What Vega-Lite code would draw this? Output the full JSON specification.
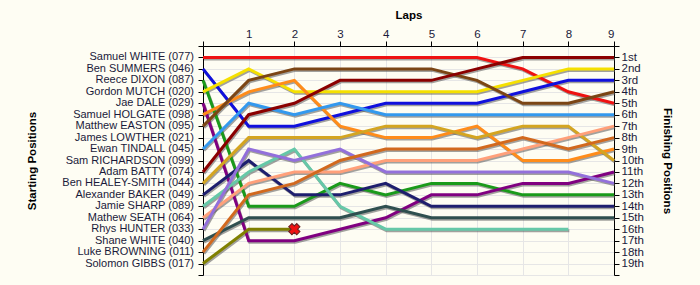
{
  "$schema": "https://vega.github.io/schema/vega-lite/v6.json",
  "autosize": "none",
  "width": 411,
  "height": 229,
  "padding": {"left": 203, "top": 46, "right": 86, "bottom": 10},
  "background": "#fefdf3",
  "config": {
    "view": {"stroke": null},
    "font": "Liberation Sans",
    "axis": {"labelFont": "Liberation Sans", "titleFont": "Liberation Sans", "labelColor": "#1a1a3a", "titleColor": "#000000", "domainColor": "#000000", "tickColor": "#000000", "gridColor": "#e6e6e6", "labelFontSize": 11, "titleFontSize": 11.5, "titleFontWeight": "bold", "labelOverlap": false}
  },
  "datasets": {
    "laps": [
      {"rider": "Samuel WHITE (077)", "lap": 0, "pos": 1}, {"rider": "Samuel WHITE (077)", "lap": 1, "pos": 1}, {"rider": "Samuel WHITE (077)", "lap": 2, "pos": 1}, {"rider": "Samuel WHITE (077)", "lap": 3, "pos": 1}, {"rider": "Samuel WHITE (077)", "lap": 4, "pos": 1}, {"rider": "Samuel WHITE (077)", "lap": 5, "pos": 1}, {"rider": "Samuel WHITE (077)", "lap": 6, "pos": 1}, {"rider": "Samuel WHITE (077)", "lap": 7, "pos": 2}, {"rider": "Samuel WHITE (077)", "lap": 8, "pos": 4}, {"rider": "Samuel WHITE (077)", "lap": 9, "pos": 5},
      {"rider": "Ben SUMMERS (046)", "lap": 0, "pos": 2}, {"rider": "Ben SUMMERS (046)", "lap": 1, "pos": 7}, {"rider": "Ben SUMMERS (046)", "lap": 2, "pos": 7}, {"rider": "Ben SUMMERS (046)", "lap": 3, "pos": 6}, {"rider": "Ben SUMMERS (046)", "lap": 4, "pos": 5}, {"rider": "Ben SUMMERS (046)", "lap": 5, "pos": 5}, {"rider": "Ben SUMMERS (046)", "lap": 6, "pos": 5}, {"rider": "Ben SUMMERS (046)", "lap": 7, "pos": 4}, {"rider": "Ben SUMMERS (046)", "lap": 8, "pos": 3}, {"rider": "Ben SUMMERS (046)", "lap": 9, "pos": 3},
      {"rider": "Reece DIXON (087)", "lap": 0, "pos": 3}, {"rider": "Reece DIXON (087)", "lap": 1, "pos": 14}, {"rider": "Reece DIXON (087)", "lap": 2, "pos": 14}, {"rider": "Reece DIXON (087)", "lap": 3, "pos": 12}, {"rider": "Reece DIXON (087)", "lap": 4, "pos": 13}, {"rider": "Reece DIXON (087)", "lap": 5, "pos": 12}, {"rider": "Reece DIXON (087)", "lap": 6, "pos": 12}, {"rider": "Reece DIXON (087)", "lap": 7, "pos": 13}, {"rider": "Reece DIXON (087)", "lap": 8, "pos": 13}, {"rider": "Reece DIXON (087)", "lap": 9, "pos": 13},
      {"rider": "Gordon MUTCH (020)", "lap": 0, "pos": 4}, {"rider": "Gordon MUTCH (020)", "lap": 1, "pos": 2}, {"rider": "Gordon MUTCH (020)", "lap": 2, "pos": 4}, {"rider": "Gordon MUTCH (020)", "lap": 3, "pos": 4}, {"rider": "Gordon MUTCH (020)", "lap": 4, "pos": 4}, {"rider": "Gordon MUTCH (020)", "lap": 5, "pos": 4}, {"rider": "Gordon MUTCH (020)", "lap": 6, "pos": 4}, {"rider": "Gordon MUTCH (020)", "lap": 7, "pos": 3}, {"rider": "Gordon MUTCH (020)", "lap": 8, "pos": 2}, {"rider": "Gordon MUTCH (020)", "lap": 9, "pos": 2},
      {"rider": "Jae DALE (029)", "lap": 0, "pos": 5}, {"rider": "Jae DALE (029)", "lap": 1, "pos": 17}, {"rider": "Jae DALE (029)", "lap": 2, "pos": 17}, {"rider": "Jae DALE (029)", "lap": 3, "pos": 16}, {"rider": "Jae DALE (029)", "lap": 4, "pos": 15}, {"rider": "Jae DALE (029)", "lap": 5, "pos": 13}, {"rider": "Jae DALE (029)", "lap": 6, "pos": 13}, {"rider": "Jae DALE (029)", "lap": 7, "pos": 12}, {"rider": "Jae DALE (029)", "lap": 8, "pos": 12}, {"rider": "Jae DALE (029)", "lap": 9, "pos": 11},
      {"rider": "Samuel HOLGATE (098)", "lap": 0, "pos": 6}, {"rider": "Samuel HOLGATE (098)", "lap": 1, "pos": 4}, {"rider": "Samuel HOLGATE (098)", "lap": 2, "pos": 3}, {"rider": "Samuel HOLGATE (098)", "lap": 3, "pos": 7}, {"rider": "Samuel HOLGATE (098)", "lap": 4, "pos": 8}, {"rider": "Samuel HOLGATE (098)", "lap": 5, "pos": 8}, {"rider": "Samuel HOLGATE (098)", "lap": 6, "pos": 7}, {"rider": "Samuel HOLGATE (098)", "lap": 7, "pos": 10}, {"rider": "Samuel HOLGATE (098)", "lap": 8, "pos": 10}, {"rider": "Samuel HOLGATE (098)", "lap": 9, "pos": 9},
      {"rider": "Matthew EASTON (095)", "lap": 0, "pos": 7}, {"rider": "Matthew EASTON (095)", "lap": 1, "pos": 3}, {"rider": "Matthew EASTON (095)", "lap": 2, "pos": 2}, {"rider": "Matthew EASTON (095)", "lap": 3, "pos": 2}, {"rider": "Matthew EASTON (095)", "lap": 4, "pos": 2}, {"rider": "Matthew EASTON (095)", "lap": 5, "pos": 2}, {"rider": "Matthew EASTON (095)", "lap": 6, "pos": 3}, {"rider": "Matthew EASTON (095)", "lap": 7, "pos": 5}, {"rider": "Matthew EASTON (095)", "lap": 8, "pos": 5}, {"rider": "Matthew EASTON (095)", "lap": 9, "pos": 4},
      {"rider": "Ewan TINDALL (045)", "lap": 0, "pos": 9}, {"rider": "Ewan TINDALL (045)", "lap": 1, "pos": 5}, {"rider": "Ewan TINDALL (045)", "lap": 2, "pos": 6}, {"rider": "Ewan TINDALL (045)", "lap": 3, "pos": 5}, {"rider": "Ewan TINDALL (045)", "lap": 4, "pos": 6}, {"rider": "Ewan TINDALL (045)", "lap": 5, "pos": 6}, {"rider": "Ewan TINDALL (045)", "lap": 6, "pos": 6}, {"rider": "Ewan TINDALL (045)", "lap": 7, "pos": 6}, {"rider": "Ewan TINDALL (045)", "lap": 8, "pos": 6}, {"rider": "Ewan TINDALL (045)", "lap": 9, "pos": 6},
      {"rider": "Adam BATTY (074)", "lap": 0, "pos": 11}, {"rider": "Adam BATTY (074)", "lap": 1, "pos": 6}, {"rider": "Adam BATTY (074)", "lap": 2, "pos": 5}, {"rider": "Adam BATTY (074)", "lap": 3, "pos": 3}, {"rider": "Adam BATTY (074)", "lap": 4, "pos": 3}, {"rider": "Adam BATTY (074)", "lap": 5, "pos": 3}, {"rider": "Adam BATTY (074)", "lap": 6, "pos": 2}, {"rider": "Adam BATTY (074)", "lap": 7, "pos": 1}, {"rider": "Adam BATTY (074)", "lap": 8, "pos": 1}, {"rider": "Adam BATTY (074)", "lap": 9, "pos": 1},
      {"rider": "Ben HEALEY-SMITH (044)", "lap": 0, "pos": 12}, {"rider": "Ben HEALEY-SMITH (044)", "lap": 1, "pos": 8}, {"rider": "Ben HEALEY-SMITH (044)", "lap": 2, "pos": 8}, {"rider": "Ben HEALEY-SMITH (044)", "lap": 3, "pos": 8}, {"rider": "Ben HEALEY-SMITH (044)", "lap": 4, "pos": 7}, {"rider": "Ben HEALEY-SMITH (044)", "lap": 5, "pos": 7}, {"rider": "Ben HEALEY-SMITH (044)", "lap": 6, "pos": 8}, {"rider": "Ben HEALEY-SMITH (044)", "lap": 7, "pos": 7}, {"rider": "Ben HEALEY-SMITH (044)", "lap": 8, "pos": 7}, {"rider": "Ben HEALEY-SMITH (044)", "lap": 9, "pos": 10},
      {"rider": "Alexander BAKER (049)", "lap": 0, "pos": 13}, {"rider": "Alexander BAKER (049)", "lap": 1, "pos": 10}, {"rider": "Alexander BAKER (049)", "lap": 2, "pos": 13}, {"rider": "Alexander BAKER (049)", "lap": 3, "pos": 13}, {"rider": "Alexander BAKER (049)", "lap": 4, "pos": 12}, {"rider": "Alexander BAKER (049)", "lap": 5, "pos": 14}, {"rider": "Alexander BAKER (049)", "lap": 6, "pos": 14}, {"rider": "Alexander BAKER (049)", "lap": 7, "pos": 14}, {"rider": "Alexander BAKER (049)", "lap": 8, "pos": 14}, {"rider": "Alexander BAKER (049)", "lap": 9, "pos": 14},
      {"rider": "Jamie SHARP (089)", "lap": 0, "pos": 14}, {"rider": "Jamie SHARP (089)", "lap": 1, "pos": 11}, {"rider": "Jamie SHARP (089)", "lap": 2, "pos": 9}, {"rider": "Jamie SHARP (089)", "lap": 3, "pos": 14}, {"rider": "Jamie SHARP (089)", "lap": 4, "pos": 16}, {"rider": "Jamie SHARP (089)", "lap": 5, "pos": 16}, {"rider": "Jamie SHARP (089)", "lap": 6, "pos": 16}, {"rider": "Jamie SHARP (089)", "lap": 7, "pos": 16}, {"rider": "Jamie SHARP (089)", "lap": 8, "pos": 16},
      {"rider": "Mathew SEATH (064)", "lap": 0, "pos": 15}, {"rider": "Mathew SEATH (064)", "lap": 1, "pos": 12}, {"rider": "Mathew SEATH (064)", "lap": 2, "pos": 11}, {"rider": "Mathew SEATH (064)", "lap": 3, "pos": 11}, {"rider": "Mathew SEATH (064)", "lap": 4, "pos": 10}, {"rider": "Mathew SEATH (064)", "lap": 5, "pos": 10}, {"rider": "Mathew SEATH (064)", "lap": 6, "pos": 10}, {"rider": "Mathew SEATH (064)", "lap": 7, "pos": 9}, {"rider": "Mathew SEATH (064)", "lap": 8, "pos": 8}, {"rider": "Mathew SEATH (064)", "lap": 9, "pos": 7},
      {"rider": "Rhys HUNTER (033)", "lap": 0, "pos": 16}, {"rider": "Rhys HUNTER (033)", "lap": 1, "pos": 9}, {"rider": "Rhys HUNTER (033)", "lap": 2, "pos": 10}, {"rider": "Rhys HUNTER (033)", "lap": 3, "pos": 9}, {"rider": "Rhys HUNTER (033)", "lap": 4, "pos": 11}, {"rider": "Rhys HUNTER (033)", "lap": 5, "pos": 11}, {"rider": "Rhys HUNTER (033)", "lap": 6, "pos": 11}, {"rider": "Rhys HUNTER (033)", "lap": 7, "pos": 11}, {"rider": "Rhys HUNTER (033)", "lap": 8, "pos": 11}, {"rider": "Rhys HUNTER (033)", "lap": 9, "pos": 12},
      {"rider": "Shane WHITE (040)", "lap": 0, "pos": 17}, {"rider": "Shane WHITE (040)", "lap": 1, "pos": 15}, {"rider": "Shane WHITE (040)", "lap": 2, "pos": 15}, {"rider": "Shane WHITE (040)", "lap": 3, "pos": 15}, {"rider": "Shane WHITE (040)", "lap": 4, "pos": 14}, {"rider": "Shane WHITE (040)", "lap": 5, "pos": 15}, {"rider": "Shane WHITE (040)", "lap": 6, "pos": 15}, {"rider": "Shane WHITE (040)", "lap": 7, "pos": 15}, {"rider": "Shane WHITE (040)", "lap": 8, "pos": 15}, {"rider": "Shane WHITE (040)", "lap": 9, "pos": 15},
      {"rider": "Luke BROWNING (011)", "lap": 0, "pos": 18}, {"rider": "Luke BROWNING (011)", "lap": 1, "pos": 13}, {"rider": "Luke BROWNING (011)", "lap": 2, "pos": 12}, {"rider": "Luke BROWNING (011)", "lap": 3, "pos": 10}, {"rider": "Luke BROWNING (011)", "lap": 4, "pos": 9}, {"rider": "Luke BROWNING (011)", "lap": 5, "pos": 9}, {"rider": "Luke BROWNING (011)", "lap": 6, "pos": 9}, {"rider": "Luke BROWNING (011)", "lap": 7, "pos": 8}, {"rider": "Luke BROWNING (011)", "lap": 8, "pos": 9}, {"rider": "Luke BROWNING (011)", "lap": 9, "pos": 8},
      {"rider": "Solomon GIBBS (017)", "lap": 0, "pos": 19}, {"rider": "Solomon GIBBS (017)", "lap": 1, "pos": 16}, {"rider": "Solomon GIBBS (017)", "lap": 2, "pos": 16}
    ],
    "starters": [
      {"lap": 0, "start": 1, "name": "Samuel WHITE (077)"}, {"lap": 0, "start": 2, "name": "Ben SUMMERS (046)"}, {"lap": 0, "start": 3, "name": "Reece DIXON (087)"}, {"lap": 0, "start": 4, "name": "Gordon MUTCH (020)"}, {"lap": 0, "start": 5, "name": "Jae DALE (029)"}, {"lap": 0, "start": 6, "name": "Samuel HOLGATE (098)"}, {"lap": 0, "start": 7, "name": "Matthew EASTON (095)"}, {"lap": 0, "start": 8, "name": "James LOWTHER (021)"}, {"lap": 0, "start": 9, "name": "Ewan TINDALL (045)"}, {"lap": 0, "start": 10, "name": "Sam RICHARDSON (099)"}, {"lap": 0, "start": 11, "name": "Adam BATTY (074)"}, {"lap": 0, "start": 12, "name": "Ben HEALEY-SMITH (044)"}, {"lap": 0, "start": 13, "name": "Alexander BAKER (049)"}, {"lap": 0, "start": 14, "name": "Jamie SHARP (089)"}, {"lap": 0, "start": 15, "name": "Mathew SEATH (064)"}, {"lap": 0, "start": 16, "name": "Rhys HUNTER (033)"}, {"lap": 0, "start": 17, "name": "Shane WHITE (040)"}, {"lap": 0, "start": 18, "name": "Luke BROWNING (011)"}, {"lap": 0, "start": 19, "name": "Solomon GIBBS (017)"}
    ],
    "retired": [{"rider": "Solomon GIBBS (017)", "lap": 2, "pos": 16}]
  },
  "resolve": {"scale": {"y": "shared"}, "axis": {"y": "independent"}},
  "layer": [
    {
      "data": {"name": "laps"},
      "mark": {"type": "line", "strokeWidth": 3, "color": "#555555", "opacity": 0.55, "xOffset": 1, "yOffset": 1.5},
      "encoding": {
        "x": {"field": "lap", "type": "quantitative", "scale": {"domain": [0, 9], "nice": false, "zero": false},
          "axis": {"orient": "top", "title": "Laps", "values": [0,1,2,3,4,5,6,7,8,9], "labelExpr": "datum.value == 0 ? '' : datum.label", "grid": true, "tickSize": 5, "labelPadding": 2, "titlePadding": 8, "labelFontSize": 11.5}},
        "y": {"field": "pos", "type": "quantitative", "scale": {"domain": [0, 20], "reverse": true, "nice": false, "zero": false},
          "axis": {"orient": "left", "title": "Starting Positions", "values": [0,1,2,3,4,5,6,7,8,9,10,11,12,13,14,15,16,17,18,19,20], "labels": false, "grid": true, "tickSize": 5, "titlePadding": 160}},
        "detail": {"field": "rider"},
        "order": {"field": "lap"}
      }
    },
    {
      "data": {"name": "laps"},
      "mark": {"type": "line", "strokeWidth": 3},
      "encoding": {
        "x": {"field": "lap", "type": "quantitative"},
        "y": {"field": "pos", "type": "quantitative",
          "axis": {"orient": "right", "title": "Finishing Positions", "titleAngle": 90, "values": [0,1,2,3,4,5,6,7,8,9,10,11,12,13,14,15,16,17,18,19,20], "labelExpr": "datum.value == 1 ? '1st' : datum.value == 2 ? '2nd' : datum.value == 3 ? '3rd' : (datum.value >= 4 && datum.value <= 19 ? datum.value + 'th' : '')", "grid": false, "tickSize": 5, "labelPadding": 2, "titlePadding": 18, "labelFontSize": 11.5}},
        "color": {"field": "rider", "type": "nominal", "legend": null,
          "scale": {
            "domain": ["Samuel WHITE (077)", "Ben SUMMERS (046)", "Reece DIXON (087)", "Gordon MUTCH (020)", "Jae DALE (029)", "Samuel HOLGATE (098)", "Matthew EASTON (095)", "Ewan TINDALL (045)", "Adam BATTY (074)", "Ben HEALEY-SMITH (044)", "Alexander BAKER (049)", "Jamie SHARP (089)", "Mathew SEATH (064)", "Rhys HUNTER (033)", "Shane WHITE (040)", "Luke BROWNING (011)", "Solomon GIBBS (017)"],
            "range": ["#ee1111", "#1010dd", "#1a9a1a", "#f5e000", "#800080", "#ff8c1a", "#7b4514", "#3399ee", "#8b0000", "#d4a521", "#1e1e6e", "#66c8a8", "#ffa07a", "#9370db", "#2f4f4f", "#d2691e", "#808000"]}},
        "order": {"field": "lap"}
      }
    },
    {
      "data": {"name": "retired"},
      "mark": {"type": "point", "shape": "cross", "angle": 45, "filled": true, "size": 130, "color": "#ee1111", "stroke": "#662222", "strokeWidth": 1, "opacity": 1},
      "encoding": {
        "x": {"field": "lap", "type": "quantitative"},
        "y": {"field": "pos", "type": "quantitative", "axis": null}
      }
    },
    {
      "data": {"name": "starters"},
      "mark": {"type": "text", "align": "right", "baseline": "middle", "dx": -9, "fontSize": 11, "font": "Liberation Sans", "fill": "#1a1a3a"},
      "encoding": {
        "x": {"field": "lap", "type": "quantitative"},
        "y": {"field": "start", "type": "quantitative", "axis": null},
        "text": {"field": "name", "type": "nominal"}
      }
    }
  ]
}
